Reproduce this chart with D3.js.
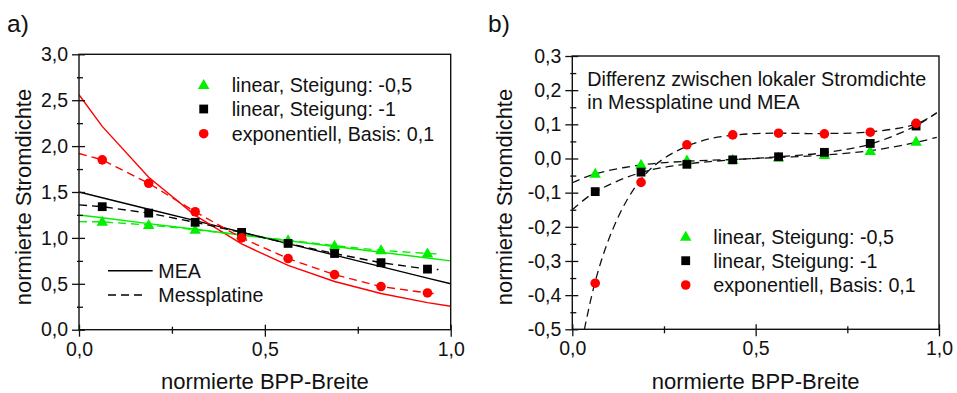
<!DOCTYPE html>
<html><head><meta charset="utf-8">
<script src="https://cdn.jsdelivr.net/npm/d3@7"></script>
<style>
body{margin:0;background:#fff}
text{font-family:"Liberation Sans",Arial,sans-serif;fill:#111}
</style>
</head><body>
<svg id="c" width="957" height="393"></svg>
<script>
// ---------- DATA ----------
const xPos = [0.0625,0.1875,0.3125,0.4375,0.5625,0.6875,0.8125,0.9375];
// Panel a: MEA (solid) model lines
const meaX      = [0,0.0625,0.1875,0.3125,0.4375,0.5625,0.6875,0.8125,0.9375,1];
const meaGreen  = [1.25,1.219,1.156,1.094,1.031,0.969,0.906,0.844,0.781,0.75];
const meaBlack  = [1.5,1.4375,1.3125,1.1875,1.0625,0.9375,0.8125,0.6875,0.5625,0.5];
const meaRed    = [2.56,2.215,1.661,1.246,0.934,0.700,0.525,0.394,0.295,0.256];
// Panel a: Messplatine measured points
const mesGreen  = [1.175,1.14,1.09,1.03,0.975,0.915,0.865,0.83];
const mesBlack  = [1.34,1.27,1.17,1.06,0.94,0.83,0.73,0.66];
const mesRed    = [1.85,1.595,1.285,1.00,0.775,0.60,0.47,0.40];
// Panel a: dashed line (x=0 start, points, right end)
const dashX     = [0,0.0625,0.1875,0.3125,0.4375,0.5625,0.6875,0.8125,0.9375,0.967];
const dashGreen = [1.177,1.175,1.14,1.09,1.03,0.975,0.915,0.865,0.83,0.825];
const dashBlack = [1.36,1.34,1.27,1.17,1.06,0.94,0.83,0.73,0.66,0.655];
const dashRed   = [1.92,1.85,1.595,1.285,1.00,0.775,0.60,0.47,0.40,0.39];
// Panel b: differences
const diffGreen = [-0.045,-0.018,-0.006,-0.004,0.003,0.010,0.022,0.049];
const diffBlack = [-0.097,-0.040,-0.017,-0.004,0.005,0.018,0.044,0.095];
const diffRed   = [-0.365,-0.070,0.040,0.069,0.074,0.072,0.077,0.103];
// Panel b: fitted dashed curves
const fitGX = [0,0.0625,0.1875,0.3125,0.4375,0.5625,0.6875,0.8125,0.9375,0.994];
const fitG  = [-0.071,-0.045,-0.019,-0.008,-0.003,0.003,0.010,0.023,0.047,0.062];
const fitBX = [0,0.0625,0.1875,0.3125,0.4375,0.5625,0.6875,0.8125,0.9375,0.994];
const fitB  = [-0.150,-0.098,-0.041,-0.016,-0.004,0.005,0.017,0.042,0.096,0.134];
const fitRX = [0.033,0.0625,0.1,0.15,0.2,0.25,0.3125,0.375,0.4375,0.5,0.5625,0.6875,0.8125,0.9375,0.994];
const fitR  = [-0.5,-0.36,-0.235,-0.12,-0.045,0.0,0.036,0.058,0.068,0.073,0.074,0.073,0.078,0.101,0.134];

const legendLabels = ["linear, Steigung: -0,5","linear, Steigung: -1","exponentiell, Basis: 0,1"];
const lineLegend = ["MEA","Messplatine"];
const xTicks = [0,0.5,1], xMinor=[0.25,0.75];
const yTicksA = [0,0.5,1,1.5,2,2.5,3], yMinorA=[0.25,0.75,1.25,1.75,2.25,2.75];
const yTicksB = [-0.5,-0.4,-0.3,-0.2,-0.1,0,0.1,0.2,0.3];
const yMinorB = [-0.45,-0.35,-0.25,-0.15,-0.05,0.05,0.15,0.25];
const xTitle = "normierte BPP-Breite", yTitle = "normierte Stromdichte";
const noteB = ["Differenz zwischen lokaler Stromdichte","in Messplatine und MEA"];

// ---------- STYLE ----------
const GREEN="#00f000", RED="#ff0000", BLACK="#000";
const loc = d3.formatLocale({decimal:",",thousands:".",grouping:[3],currency:["","€"],minus:"-"});
const fmt = loc.format(".1f");
const svg = d3.select("#c");

function marker(g, type, cx, cy, color){
  if(type==="tri"){
    const s=11.5, h=10;
    g.append("path").attr("d",`M${cx},${cy-h*0.6}L${cx+s/2},${cy+h*0.4}L${cx-s/2},${cy+h*0.4}Z`).attr("fill",color);
  } else if(type==="sq"){
    g.append("rect").attr("x",cx-4.4).attr("y",cy-4.4).attr("width",8.8).attr("height",8.8).attr("fill",color);
  } else {
    g.append("circle").attr("cx",cx).attr("cy",cy).attr("r",4.8).attr("fill",color);
  }
}

function frame(x, y, yTicks, yMinor, label, lx){
  const g = svg.append("g");
  const [x0,x1]=x.range(), [y1,y0]=y.range();
  g.append("g").attr("transform",`translate(0,${y1})`)
    .call(d3.axisBottom(x).tickValues(xTicks).tickFormat(fmt).tickSizeInner(7).tickSizeOuter(0).tickPadding(5));
  g.append("g").attr("transform",`translate(0,${y1})`)
    .call(d3.axisTop(x).tickValues(xTicks).tickFormat("").tickSizeInner(5).tickSizeOuter(0));
  g.append("g").attr("transform",`translate(0,${y1})`)
    .call(d3.axisBottom(x).tickValues(xMinor).tickFormat("").tickSizeInner(4).tickSizeOuter(0));
  g.append("g").attr("transform",`translate(0,${y1})`)
    .call(d3.axisTop(x).tickValues(xMinor).tickFormat("").tickSizeInner(3).tickSizeOuter(0));
  g.append("g").attr("transform",`translate(${x0},0)`)
    .call(d3.axisLeft(y).tickValues(yTicks).tickFormat(fmt).tickSizeInner(7).tickSizeOuter(0).tickPadding(4));
  g.append("g").attr("transform",`translate(${x0},0)`)
    .call(d3.axisRight(y).tickValues(yTicks).tickFormat("").tickSizeInner(6).tickSizeOuter(0));
  g.append("g").attr("transform",`translate(${x0},0)`)
    .call(d3.axisLeft(y).tickValues(yMinor).tickFormat("").tickSizeInner(2).tickSizeOuter(0));
  g.append("g").attr("transform",`translate(${x0},0)`)
    .call(d3.axisRight(y).tickValues(yMinor).tickFormat("").tickSizeInner(4).tickSizeOuter(0));
  g.selectAll(".domain").remove();
  g.selectAll(".tick line").attr("stroke","#111").attr("stroke-width",1.3);
  g.selectAll(".tick text").attr("font-size",19.5).attr("font-family",'"Liberation Sans",Arial,sans-serif').attr("fill","#111");
  g.append("rect").attr("x",x0).attr("y",y0).attr("width",x1-x0).attr("height",y1-y0)
    .attr("fill","none").attr("stroke","#111").attr("stroke-width",1.4);
  svg.append("text").attr("x",(x0+x1)/2).attr("y",389).attr("text-anchor","middle").attr("font-size",22).text(xTitle);
  svg.append("text").attr("transform",`translate(${lx},${197}) rotate(-90)`).attr("text-anchor","middle").attr("font-size",22).text(yTitle);
  svg.append("text").attr("x",label[1]).attr("y",32).attr("font-size",24.5).text(label[0]);
}

// ---------- PANEL A ----------
const xa = d3.scaleLinear().domain([0,1]).range([79,450.7]);
const ya = d3.scaleLinear().domain([0,3]).range([329.7,54.3]);
svg.append("clipPath").attr("id","ca").append("rect").attr("x",79).attr("y",54.3).attr("width",371.7).attr("height",275.4);
const pa = svg.append("g").attr("clip-path","url(#ca)");
const lineA = (xs,ys)=>d3.line().x((d,i)=>xa(xs[i])).y(d=>ya(d))(ys);
[[meaGreen,GREEN],[meaBlack,BLACK],[meaRed,RED]].forEach(([v,c])=>
  pa.append("path").attr("d",lineA(meaX,v)).attr("fill","none").attr("stroke",c).attr("stroke-width",1.4));
[[dashGreen,GREEN],[dashBlack,BLACK],[dashRed,RED]].forEach(([v,c])=>
  pa.append("path").attr("d",lineA(dashX,v)).attr("fill","none").attr("stroke",c).attr("stroke-width",1.4).attr("stroke-dasharray","8,5"));
xPos.forEach((x,i)=>{
  marker(pa,"tri",xa(x),ya(mesGreen[i]),GREEN);
  marker(pa,"sq",xa(x),ya(mesBlack[i]),BLACK);
  marker(pa,"circ",xa(x),ya(mesRed[i]),RED);
});
frame(xa,ya,yTicksA,yMinorA,["a)",7],31);
const typ=["tri","sq","circ"], cols=[GREEN,BLACK,RED];
[85,109,133.7].forEach((yy,i)=>{
  marker(svg,typ[i],203.7,yy,cols[i]);
  svg.append("text").attr("x",231.7).attr("y",yy).attr("dy","0.36em").attr("font-size",19.7).text(legendLabels[i]);
});
svg.append("line").attr("x1",108).attr("x2",152.7).attr("y1",270.7).attr("y2",270.7).attr("stroke","#000").attr("stroke-width",1.4);
svg.append("line").attr("x1",108).attr("x2",142).attr("y1",295).attr("y2",295).attr("stroke","#000").attr("stroke-width",1.4).attr("stroke-dasharray","8,5");
svg.append("text").attr("x",158.3).attr("y",270.7).attr("dy","0.36em").attr("font-size",19.7).text(lineLegend[0]);
svg.append("text").attr("x",158.3).attr("y",295).attr("dy","0.36em").attr("font-size",19.7).text(lineLegend[1]);

// ---------- PANEL B ----------
const xb = d3.scaleLinear().domain([0,1]).range([572.3,939]);
const yb = d3.scaleLinear().domain([-0.5,0.3]).range([329.3,56]);
svg.append("clipPath").attr("id","cb").append("rect").attr("x",572.3).attr("y",56).attr("width",366.7).attr("height",273.3);
const pb = svg.append("g").attr("clip-path","url(#cb)");
const lineB = (xs,ys)=>d3.line().curve(d3.curveCatmullRom.alpha(0.5)).x((d,i)=>xb(xs[i])).y(d=>yb(d))(ys);
[[fitGX,fitG],[fitBX,fitB],[fitRX,fitR]].forEach(([xs,v])=>
  pb.append("path").attr("d",lineB(xs,v)).attr("fill","none").attr("stroke","#111").attr("stroke-width",1.3).attr("stroke-dasharray","8,5"));
xPos.forEach((x,i)=>{
  marker(pb,"tri",xb(x),yb(diffGreen[i]),GREEN);
  marker(pb,"sq",xb(x),yb(diffBlack[i]),BLACK);
  marker(pb,"circ",xb(x),yb(diffRed[i]),RED);
});
frame(xb,yb,yTicksB,yMinorB,["b)",488],512);
[236.7,260.7,285].forEach((yy,i)=>{
  marker(svg,typ[i],685.7,yy,cols[i]);
  svg.append("text").attr("x",713.3).attr("y",yy).attr("dy","0.36em").attr("font-size",19.7).text(legendLabels[i]);
});
svg.append("text").attr("x",587.3).attr("y",86).attr("font-size",19.7).text(noteB[0]);
svg.append("text").attr("x",587.3).attr("y",108.5).attr("font-size",19.7).text(noteB[1]);
</script>
</body></html>
